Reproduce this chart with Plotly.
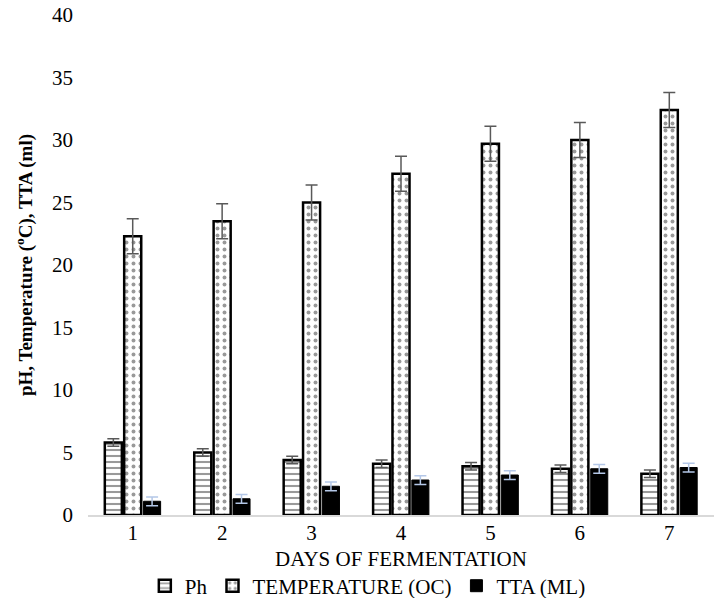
import plotly.graph_objects as go

days = ["1", "2", "3", "4", "5", "6", "7"]
ph = [5.8, 5.0, 4.4, 4.1, 3.9, 3.7, 3.3]
ph_err = [0.3, 0.3, 0.3, 0.3, 0.3, 0.3, 0.3]
temp = [22.3, 23.5, 25.0, 27.3, 29.7, 30.0, 32.4]
temp_err = [1.4, 1.4, 1.4, 1.4, 1.4, 1.4, 1.4]
tta = [1.1, 1.3, 2.3, 2.8, 3.2, 3.7, 3.8]
tta_err = [0.35, 0.35, 0.35, 0.35, 0.35, 0.35, 0.35]

font = "Times New Roman, Liberation Serif, serif"
FS = 21

fig = go.Figure()
fig.add_trace(go.Bar(
    x=days, y=ph, name="Ph",
    marker=dict(color="white", line=dict(color="black", width=2.5),
                pattern=dict(shape="-", fgcolor="#333333", bgcolor="white", size=6, solidity=0.35)),
    error_y=dict(type="data", array=ph_err, color="#595959", thickness=1.5, width=6),
))
fig.add_trace(go.Bar(
    x=days, y=temp, name="TEMPERATURE (OC)",
    marker=dict(color="white", line=dict(color="black", width=2.5),
                pattern=dict(shape=".", fgcolor="#333333", bgcolor="white", size=7, solidity=0.25)),
    error_y=dict(type="data", array=temp_err, color="#595959", thickness=1.5, width=6),
))
fig.add_trace(go.Bar(
    x=days, y=tta, name="TTA (ML)",
    marker=dict(color="black", line=dict(color="black", width=1)),
    error_y=dict(type="data", array=tta_err, color="#b4c7e7", thickness=1.5, width=6),
))

fig.update_layout(
    width=727, height=598,
    margin=dict(l=88, r=13, t=15, b=83, autoexpand=False),
    paper_bgcolor="white", plot_bgcolor="white",
    barmode="group", bargap=0.35, bargroupgap=0.12,
    font=dict(family=font, size=FS, color="black"),
    showlegend=True,
    legend=dict(orientation="h", x=0.447, xanchor="center", yref="container", y=0.02, yanchor="middle",
                font=dict(family=font, size=FS), itemwidth=30, tracegroupgap=0),
    xaxis=dict(showline=True, linecolor="#d9d9d9", linewidth=1.5, showgrid=False, automargin=False,
               ticks="", tickfont=dict(family=font, size=FS), ticklabelstandoff=-2),
    yaxis=dict(range=[0, 40], dtick=5, showline=False, showgrid=False, zeroline=False, automargin=False,
               ticks="", tickfont=dict(family=font, size=FS), ticklabelstandoff=14,
               title=dict(text="<b>pH, Temperature (<sup>o</sup>C), TTA (ml)</b>",
                          font=dict(family=font, size=19), standoff=14)),
    annotations=[dict(text="DAYS OF FERMENTATION", xref="paper", yref="paper", x=0.5, y=-0.087,
                      xanchor="center", yanchor="middle", showarrow=False,
                      font=dict(family=font, size=FS))],
)

fig.write_html("out.html")
